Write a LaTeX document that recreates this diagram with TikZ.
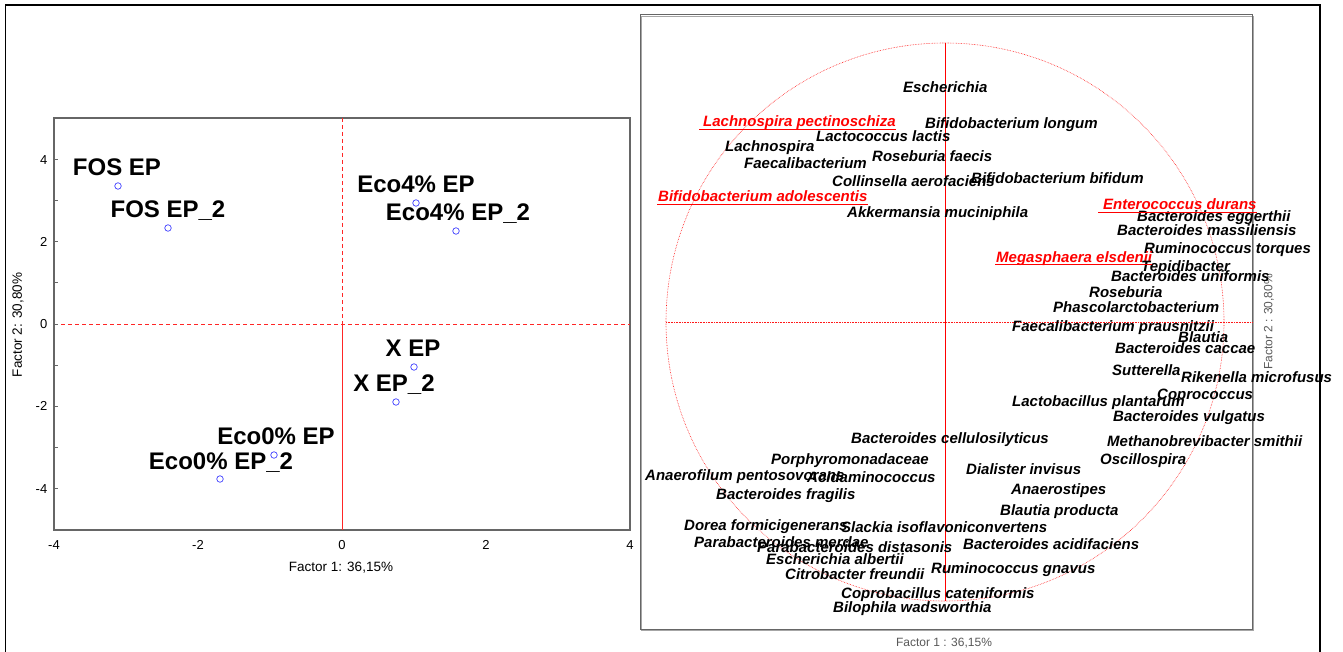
\documentclass[tikz,border=0pt]{standalone}
\usepackage{fontspec}
\setmainfont{Liberation Sans}
\begin{document}
\begin{tikzpicture}[x=1pt,y=-1pt,
  sample/.style={font=\fontsize{24}{24}\selectfont\bfseries, inner sep=0pt, anchor=base},
  spec/.style={font=\fontsize{15}{15}\selectfont\bfseries\itshape, inner sep=0pt, anchor=base west},
  specred/.style={spec, text=red},
  redline/.style={draw=red, line width=1.4pt},
  pointmark/.style={circle, draw=blue!75!white, inner sep=0pt, minimum size=6.5pt, line width=0.7pt},
  ticklbl/.style={font=\fontsize{13}{13}\selectfont, inner sep=0pt},
  axtitle/.style={font=\fontsize{13.5}{13.5}\selectfont, inner sep=0pt},
  axtitlegray/.style={font=\fontsize{12}{12}\selectfont, inner sep=0pt, text=black!65},
  boxline/.style={draw=black!60, line width=1.2pt},
  axisred/.style={draw=red!85!white, line width=0.7pt},
]
\useasboundingbox (0,0) rectangle (1343,652);
\fill[white] (0,0) rectangle (1343,652);
% outer frame
\draw[black, line width=1.6pt] (5.5,652) -- (5.5,5) -- (1320,5) -- (1320,652);

% ---------------- left panel ----------------
\draw[boxline] (54,118) rectangle (630,530);
\draw[axisred, dashed, dash pattern=on 4pt off 3pt] (54,324) -- (630,324);
\draw[axisred, dashed, dash pattern=on 4pt off 3pt] (342,118) -- (342,324);
\draw[axisred] (342,324) -- (342,530);
\foreach \k in {-4,...,4} { \draw[black!60, line width=0.8pt] (54,{324-41.2*\k}) -- (57.5,{324-41.2*\k}); }
% y tick labels
\node[ticklbl, anchor=east] (yt4) at (47.5,160.2) {4};
\node[ticklbl, anchor=east] (yt2) at (47.5,241.6) {2};
\node[ticklbl, anchor=east] (yt0) at (47.5,324) {0};
\node[ticklbl, anchor=east] (ytm2) at (47.5,406.4) {-2};
\node[ticklbl, anchor=east] (ytm4) at (47.5,488.8) {-4};
% x tick labels
\node[ticklbl] (xtm4) at (54,545) {-4};
\node[ticklbl] (xtm2) at (198,545) {-2};
\node[ticklbl] (xt0) at (342,545) {0};
\node[ticklbl] (xt2) at (486,545) {2};
\node[ticklbl] (xt4) at (630,545) {4};
\node[axtitle] (f1l) at (341,568) {Factor 1: 36,15\%};
\node[axtitle, rotate=90] (f2l) at (18,325) {Factor 2: 30,80\%};
% points
\node[pointmark] (p1) at (118,186) {};
\node[pointmark] (p2) at (168,228) {};
\node[pointmark] (p3) at (416,203) {};
\node[pointmark] (p4) at (456,231) {};
\node[pointmark] (p5) at (414,367) {};
\node[pointmark] (p6) at (396,402) {};
\node[pointmark] (p7) at (274,455) {};
\node[pointmark] (p8) at (220,479) {};
\node[sample] (l1) at (117,175.5) {FOS EP};
\node[sample] (l2) at (168,217.5) {FOS EP\_2};
\node[sample] (l3) at (416,192.5) {Eco4\% EP};
\node[sample] (l4) at (458,221) {Eco4\% EP\_2};
\node[sample] (l5) at (413,356.5) {X EP};
\node[sample] (l6) at (394,391.5) {X EP\_2};
\node[sample] (l7) at (276,444.5) {Eco0\% EP};
\node[sample] (l8) at (221,469) {Eco0\% EP\_2};

% ---------------- right panel ----------------
\draw[draw=black!35, line width=1.2pt] (641.5,16.5) rectangle (1253.5,630.5);
\draw[draw=black!60, line width=1pt] (640,15) rectangle (1252,629);
\draw[red!90!white, line width=0.6pt, densely dotted] (945,322) circle (279);
\draw[red!90!white, line width=0.6pt, densely dotted] (666,322) -- (1252,322);
\draw[red, line width=0.7pt] (945,43) -- (945,601);
\node[axtitlegray] (f1r) at (944,643) {Factor 1 : 36,15\%};
\node[axtitlegray, rotate=90] (f2r) at (1269,322) {Factor 2 : 30,80\%};

\node[spec] (s1) at (903,93) {Escherichia};
\node[specred] (s2) at (703,127) {Lachnospira pectinoschiza};
\node[spec] (s3) at (925,129) {Bifidobacterium longum};
\node[spec] (s4) at (816,142) {Lactococcus lactis};
\node[spec] (s5) at (725,152) {Lachnospira};
\node[spec] (s6) at (872,162) {Roseburia faecis};
\node[spec] (s7) at (744,169) {Faecalibacterium};
\node[spec] (s8) at (832,187) {Collinsella aerofaciens};
\node[spec] (s9) at (971,184) {Bifidobacterium bifidum};
\node[specred] (s10) at (658,202) {Bifidobacterium adolescentis};
\node[spec] (s11) at (847,218) {Akkermansia muciniphila};
\node[specred] (s12) at (1103,210) {Enterococcus durans};
\node[spec] (s13) at (1137,222) {Bacteroides eggerthii};
\node[spec] (s14) at (1117,236) {Bacteroides massiliensis};
\node[spec] (s15) at (1144,254) {Ruminococcus torques};
\node[specred] (s16) at (996,262) {Megasphaera elsdenii};
\node[spec] (s17) at (1141,272) {Tepidibacter};
\node[spec] (s18) at (1111,281) {Bacteroides uniformis};
\node[spec] (s19) at (1089,297) {Roseburia};
\node[spec] (s20) at (1053,312) {Phascolarctobacterium};
\node[spec] (s21) at (1012,331) {Faecalibacterium prausnitzii};
\node[spec] (s22) at (1178,342) {Blautia};
\node[spec] (s23) at (1115,353) {Bacteroides caccae};
\node[spec] (s24) at (1112,375) {Sutterella};
\node[spec] (s25) at (1181,382) {Rikenella microfusus};
\node[spec] (s26) at (1157,399) {Coprococcus};
\node[spec] (s27) at (1012,406) {Lactobacillus plantarum};
\node[spec] (s28) at (1113,421) {Bacteroides vulgatus};
\node[spec] (s29) at (851,443) {Bacteroides cellulosilyticus};
\node[spec] (s30) at (1107,446) {Methanobrevibacter smithii};
\node[spec] (s31) at (771,464) {Porphyromonadaceae};
\node[spec] (s32) at (1100,464) {Oscillospira};
\node[spec] (s33) at (966,474) {Dialister invisus};
\node[spec] (s34) at (645,480) {Anaerofilum pentosovorans};
\node[spec] (s35) at (807,482) {Acidaminococcus};
\node[spec] (s36) at (1011,494) {Anaerostipes};
\node[spec] (s37) at (716,499) {Bacteroides fragilis};
\node[spec] (s38) at (1000,515) {Blautia producta};
\node[spec] (s39) at (684,530) {Dorea formicigenerans};
\node[spec] (s40) at (841,532) {Slackia isoflavoniconvertens};
\node[spec] (s41) at (694,547) {Parabacteroides merdae};
\node[spec] (s42) at (757,552) {Parabacteroides distasonis};
\node[spec] (s43) at (963,549) {Bacteroides acidifaciens};
\node[spec] (s44) at (766,564) {Escherichia albertii};
\node[spec] (s45) at (931,573) {Ruminococcus gnavus};
\node[spec] (s46) at (785,579) {Citrobacter freundii};
\node[spec] (s47) at (841,598) {Coprobacillus cateniformis};
\node[spec] (s48) at (833,612) {Bilophila wadsworthia};
% underlines of the highlighted species
\draw[redline] ([xshift=-4pt,yshift=-2.5pt]s2.base west) -- ([yshift=-2.5pt]s2.base east);
\draw[redline] ([xshift=-1pt,yshift=-2.5pt]s10.base west) -- ([yshift=-2.5pt]s10.base east);
\draw[redline] ([xshift=-5pt,yshift=-2.5pt]s12.base west) -- ([yshift=-2.5pt]s12.base east);
\draw[redline] ([xshift=-1pt,yshift=-2.5pt]s16.base west) -- ([yshift=-2.5pt]s16.base east);
\end{tikzpicture}
\end{document}
